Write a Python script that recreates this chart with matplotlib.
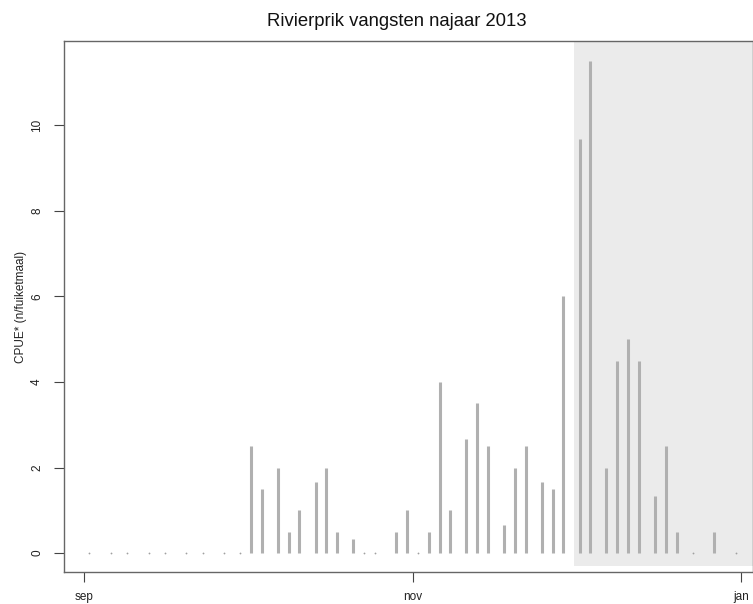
import matplotlib
matplotlib.use("Agg")
import matplotlib.pyplot as plt
import pandas as pd
import numpy as np

plt.rcParams['font.family'] = ['Liberation Sans', 'DejaVu Sans']

# Sampling dates (2013) and CPUE values
dates = ["2013-09-02", "2013-09-06", "2013-09-09", "2013-09-13", "2013-09-16",
         "2013-09-20", "2013-09-23", "2013-09-27", "2013-09-30", "2013-10-02",
         "2013-10-04", "2013-10-07", "2013-10-09", "2013-10-11", "2013-10-14",
         "2013-10-16", "2013-10-18", "2013-10-21", "2013-10-23", "2013-10-25",
         "2013-10-29", "2013-10-31", "2013-11-02", "2013-11-04", "2013-11-06",
         "2013-11-08", "2013-11-11", "2013-11-13", "2013-11-15", "2013-11-18",
         "2013-11-20", "2013-11-22", "2013-11-25", "2013-11-27", "2013-11-29",
         "2013-12-02", "2013-12-04", "2013-12-07", "2013-12-09", "2013-12-11",
         "2013-12-13", "2013-12-16", "2013-12-18", "2013-12-20", "2013-12-23",
         "2013-12-27", "2013-12-31"]
cpue = [0, 0, 0, 0, 0,
        0, 0, 0, 0, 2.5,
        1.5, 2.0, 0.5, 1.0, 1.67,
        2.0, 0.5, 0.33, 0, 0,
        0.5, 1.0, 0, 0.5, 4.0,
        1.0, 2.67, 3.5, 2.5, 0.67,
        2.0, 2.5, 1.67, 1.5, 6.0,
        9.67, 11.5, 2.0, 4.5, 5.0,
        4.5, 1.33, 2.5, 0.5, 0,
        0.5, 0]
tick_dates = ["2013-09-01", "2013-11-01", "2014-01-01"]
tick_labels = ["sep", "nov", "jan"]
shade_start = "2013-12-01"
title = "Rivierprik vangsten najaar 2013"
ylabel = "CPUE* (n/fuiketmaal)"

origin = pd.Timestamp("2013-09-01")
def days(d):
    return (pd.to_datetime(d) - origin).days if isinstance(d, str) else \
        np.asarray((pd.to_datetime(d) - origin).days, dtype=float)

x = days(dates)
y = np.asarray(cpue, dtype=float)
xt = days(tick_dates)
xs = days(shade_start)

fig = plt.figure(figsize=(7.53, 6.04), dpi=100)
ax = fig.add_axes([64/753, 1 - 572/604, (753 - 64)/753, (572 - 41)/604])

xmin, xmax = -3.72, 124.2
ymin, ymax = -0.44, 11.97
ax.set_xlim(xmin, xmax)
ax.set_ylim(ymin, ymax)

bar_col = "#b0b0b0"
ax.axvspan(xs, xmax + 5, ymin=(-0.30 - ymin) / (ymax - ymin), ymax=1.0,
           color="#ebebeb", lw=0, zorder=0)
ax.vlines(x, 0, y, color=bar_col, lw=2.2, zorder=2)
zero = y == 0
ax.plot(x[zero], y[zero], ls="none", marker="o", ms=1.3, color="#a0a0a0",
        mec="none", zorder=3)

ax.set_xticks(xt)
ax.set_xticklabels(tick_labels)
ax.set_yticks([0, 2, 4, 6, 8, 10])
ax.set_yticklabels(["0", "2", "4", "6", "8", "10"], rotation=90, va="center")
ax.tick_params(axis="both", length=7, width=0.8, color="#444444",
               labelsize=8.5, labelcolor="#222222")
ax.tick_params(axis="x", pad=7)
ax.tick_params(axis="y", pad=8)
for s in ax.spines.values():
    s.set_color("#666666")
    s.set_linewidth(1.0)

fig.text(397/753, 1 - 21/604, title, fontsize=13.3, color="#111111",
         ha="center", va="center")
ax.set_ylabel(ylabel, fontsize=8.5, labelpad=3, color="#222222")

fig.savefig("out.png", dpi=100)
